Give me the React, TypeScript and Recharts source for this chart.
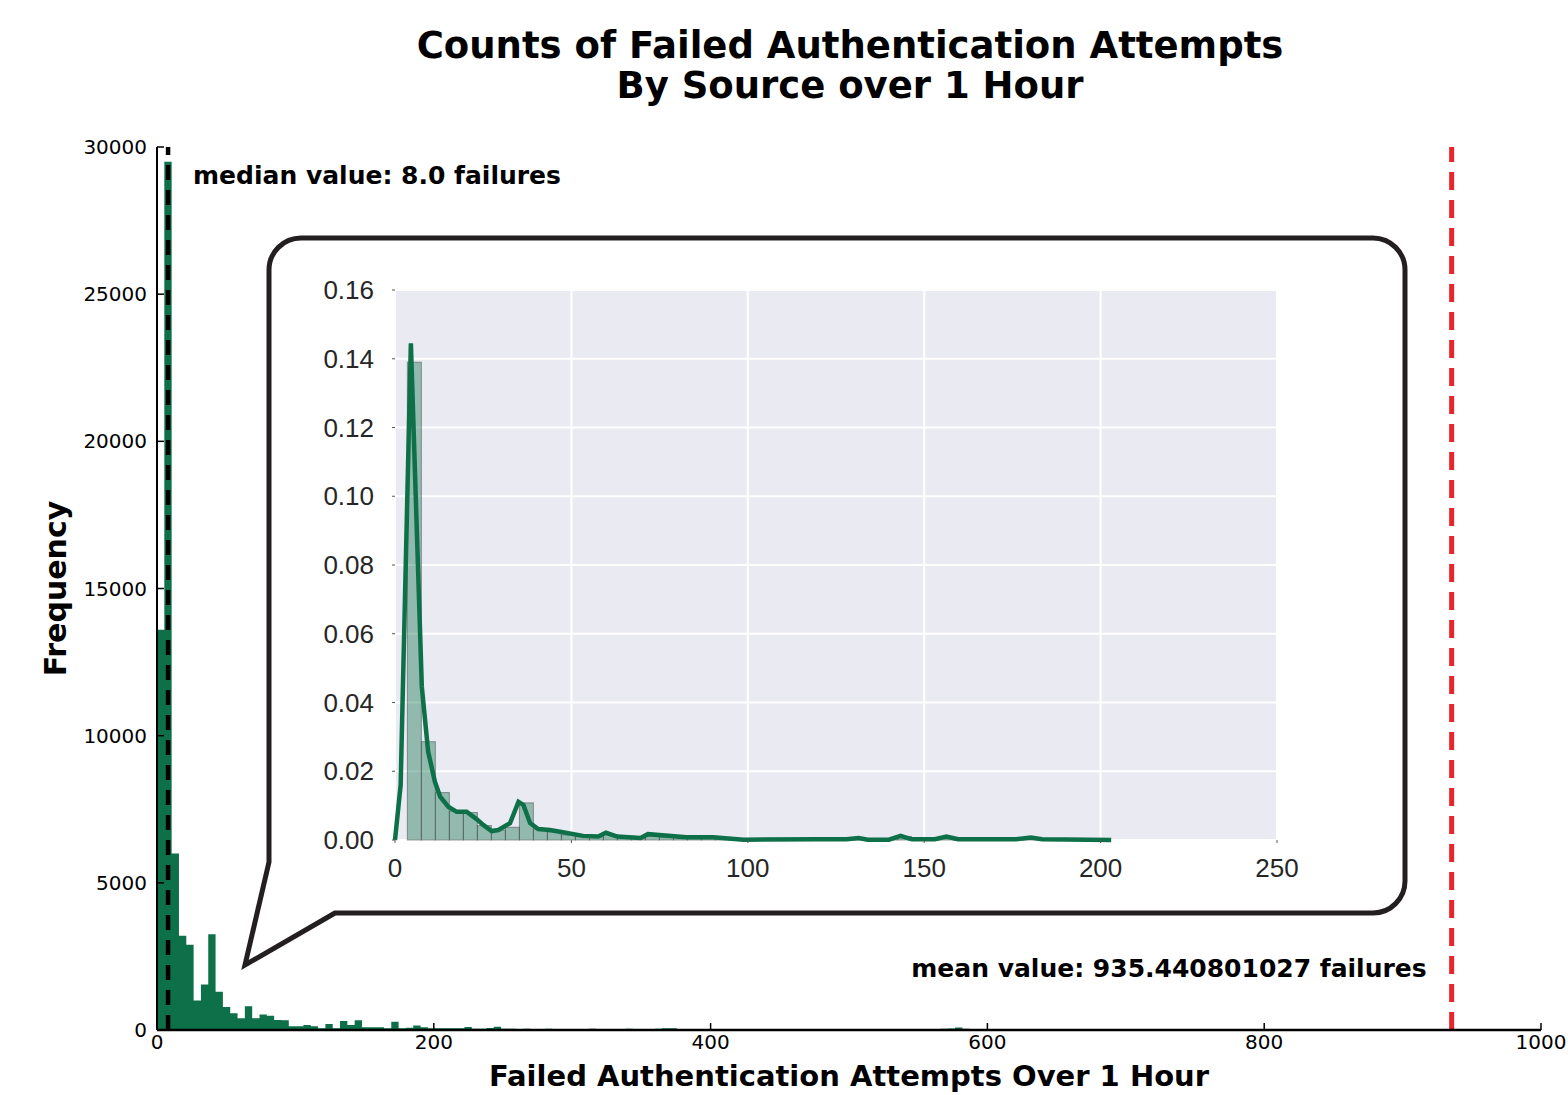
import React from 'react';
import { ComposedChart, Area, Bar, Line, XAxis, YAxis, CartesianGrid, ReferenceLine, Label } from 'recharts';

// ---------- data: main histogram (counts per bin) ----------
const MAIN_BIN_WIDTH = 5.29;
const mainCounts = [
  13600, 29500, 6000, 3200, 2900, 1000, 1550, 3250, 1300, 780,
  570, 400, 810, 400, 530, 480, 340, 330,
  125, 125, 170, 125, 58, 200, 58, 305, 170, 330, 90, 90, 90, 60, 280, 60, 80, 150,
  90, 60, 60, 60, 60, 60, 100, 45, 45, 70, 110, 45, 40, 35,
  40, 30, 35, 45, 30, 28, 38, 32, 30, 42,
  35, 30, 28, 33, 40, 30, 27, 35, 45, 62,
  58, 30, 28, 32, 30, 25, 35, 30, 28, 26,
  30, 33, 28, 25, 30, 27, 35, 28, 26, 30,
  28, 25, 32, 27, 30, 26, 24, 28, 30, 25,
  27, 24, 28, 30, 25, 26, 35, 40, 55, 88,
  40, 26, 24, 28, 25, 22, 27, 25, 23, 26,
  24, 22, 25, 23, 26, 22, 20, 24, 22, 25,
  21, 23, 20, 24, 22, 21, 19, 23, 20, 22,
  20, 22, 19, 21, 20, 18, 22, 20, 19, 21,
  18, 20, 22, 19, 18, 20, 17, 19, 21, 18,
  17, 19, 18, 20, 17, 18, 16, 19, 17, 18,
  16, 18, 17, 15, 18, 16, 17, 15, 16, 18,
  15, 17, 16, 15, 17, 14, 16, 15, 14,
];
const mainXTicks = [0, 200, 400, 600, 800, 1000];
const mainYTicks = [0, 5000, 10000, 15000, 20000, 25000, 30000];
const MEDIAN = 8.0;
const MEAN = 935.440801027;

// ---------- data: inset (density histogram + KDE) ----------
const INSET_BIN_START = 3.5;
const INSET_BIN_WIDTH = 3.97;
const insetDensity = [
  0.139, 0.0286, 0.0138, 0.0084, 0.0080, 0.0042, 0.0029, 0.0037, 0.0108, 0.0032,
  0.0024, 0.0015, 0.0010,
  0.0009, 0.0016, 0.0008, 0.0006, 0.0012, 0.0009, 0.0007, 0.0006, 0.0008, 0.0006, 0.0004, 0.0002,
  0.0002, 0.0001, 0.0002, 0.0001, 0.0002, 0.0001, 0.0002, 0.0004, 0.0001, 0.0001,
  0.0010, 0.0002, 0.0001, 0.0008, 0.0002, 0.0001, 0.0001, 0.0002, 0.0001, 0.0006,
  0.0002, 0.0001, 0.0001, 0.0002, 0.0001,
];
const kdeX = [
  0, 1.6, 4.5, 7.6, 9.4, 11.3, 12.8, 15.1, 17.5, 20.3, 23.2, 25, 27.4, 29.3, 32.6,
  35, 36.4, 38.3, 40.6, 43.9, 46.8, 53.3, 57.6, 59.8, 63, 69.6, 71.7, 82.6, 90.2,
  98.8, 120, 128, 131.4, 134, 140, 143.3, 146.5, 153, 156.3, 159.6, 176, 180.2, 183.4, 203,
];
const kdeY = [
  0, 0.016, 0.1445, 0.0446, 0.0257, 0.017, 0.0126, 0.0097, 0.0082, 0.0082, 0.006, 0.0044,
  0.0026, 0.0029, 0.0049, 0.0111, 0.0102, 0.0049, 0.0032, 0.0029, 0.0024, 0.0012, 0.001,
  0.0021, 0.001, 0.0006, 0.0017, 0.0008, 0.0008, 0.0001, 0.0002, 0.0002, 0.0006, 0.0001,
  0.0001, 0.0012, 0.0002, 0.0002, 0.001, 0.0002, 0.0002, 0.0007, 0.0002, 0,
];
const insetXTicks = [0, 50, 100, 150, 200, 250];
const insetYTicks = [0, 0.02, 0.04, 0.06, 0.08, 0.1, 0.12, 0.14, 0.16];

// ---------- derived tables ----------
const mainData = mainCounts
  .map((c, i) => ({ x: i * MAIN_BIN_WIDTH, count: c }))
  .concat([{ x: mainCounts.length * MAIN_BIN_WIDTH, count: mainCounts[mainCounts.length - 1] }]);
const insetBars = insetDensity.map((d, i) => ({
  x: INSET_BIN_START + (i + 0.5) * INSET_BIN_WIDTH,
  density: d,
}));
const kdeData = kdeX.map((x, i) => ({ x, kde: kdeY[i] }));

const GREEN = '#0d7049';
const RED = '#e8252a';
const DV = 'DejaVu Sans';
const LIB = 'Liberation Sans';

const INSET_W = 1000;
const INSET_H = 630;
const INSET_MARGIN = { top: 20, right: 23, bottom: 0, left: 0 };
const INSET_YAXIS_W = 95;
const INSET_X_DOMAIN = 250;
const INSET_PLOT_W = INSET_W - INSET_MARGIN.right - INSET_MARGIN.left - INSET_YAXIS_W;
const INSET_BAR_PX = (INSET_BIN_WIDTH / INSET_X_DOMAIN) * INSET_PLOT_W;

// bar shape: centred on the library's x coordinate, one bin wide
const HistBar = (props: any) => {
  const { x, y, width, height } = props;
  if (height == null || height <= 0) return null;
  const cx = x + (width || 0) / 2;
  return (
    <rect
      x={cx - INSET_BAR_PX / 2}
      y={y}
      width={INSET_BAR_PX}
      height={height}
      fill={GREEN}
      fillOpacity={0.4}
      stroke="#4d4d4d"
      strokeOpacity={0.55}
      strokeWidth={1}
    />
  );
};

const MedianLabel = (props: any) => {
  const vb = props.viewBox || { x: 0, y: 0 };
  return (
    <text x={vb.x + 25} y={vb.y + 37} fontFamily={DV} fontWeight="bold" fontSize={25} fill="#000">
      {`median value: ${MEDIAN.toFixed(1)} failures`}
    </text>
  );
};

const MeanLabel = (props: any) => {
  const vb = props.viewBox || { x: 0, y: 0, height: 0 };
  return (
    <text x={vb.x - 25} y={vb.y + vb.height - 53} textAnchor="end" fontFamily={DV} fontWeight="bold" fontSize={25} fill="#000">
      {`mean value: ${MEAN} failures`}
    </text>
  );
};

const XLabel = (props: any) => {
  const vb = props.viewBox || { x: 0, y: 0, width: 0, height: 0 };
  return (
    <text x={vb.x + vb.width / 2} y={vb.y + vb.height - 9} textAnchor="middle" fontFamily={DV} fontWeight="bold" fontSize={29} fill="#000">
      Failed Authentication Attempts Over 1 Hour
    </text>
  );
};

const YLabel = (props: any) => {
  const vb = props.viewBox || { x: 0, y: 0, width: 0, height: 0 };
  const cy = vb.y + vb.height / 2;
  return (
    <text x={66} y={cy} transform={`rotate(-90 66 ${cy})`} textAnchor="middle" fontFamily={DV} fontWeight="bold" fontSize={30} fill="#000">
      Frequency
    </text>
  );
};

export default function App() {
  return (
    <div style={{ position: 'absolute', left: 0, top: 0, width: 1568, height: 1095, background: '#fff', overflow: 'hidden' }}>
      <div style={{ position: 'absolute', left: 0, top: 0 }}>
        <ComposedChart width={1568} height={1095} data={mainData} margin={{ top: 147, right: 27, bottom: 0, left: 0 }}>
          <XAxis
            type="number"
            dataKey="x"
            domain={[0, 1000]}
            ticks={mainXTicks}
            interval={0}
            allowDataOverflow
            height={65}
            tickSize={-7}
            tickMargin={12}
            axisLine={{ stroke: '#000', strokeWidth: 2.5 }}
            tickLine={{ stroke: '#000', strokeWidth: 1.5 }}
            tick={{ fill: '#000', fontSize: 20, fontFamily: DV }}
          >
            <Label content={<XLabel />} />
          </XAxis>
          <YAxis
            type="number"
            domain={[0, 30000]}
            ticks={mainYTicks}
            interval={0}
            allowDataOverflow
            width={157}
            tickSize={-7}
            tickMargin={17}
            axisLine={{ stroke: '#000', strokeWidth: 2 }}
            tickLine={{ stroke: '#000', strokeWidth: 1.5 }}
            tick={{ fill: '#000', fontSize: 20, fontFamily: DV }}
          >
            <Label content={<YLabel />} />
          </YAxis>
          <Area type="stepAfter" dataKey="count" fill={GREEN} fillOpacity={1} stroke="none" isAnimationActive={false} />
          <ReferenceLine x={MEDIAN} stroke="#000" strokeWidth={4.5} strokeDasharray="15 10" label={<MedianLabel />} />
          <ReferenceLine x={MEAN} stroke={RED} strokeWidth={5} strokeDasharray="18 10" label={<MeanLabel />} />
        </ComposedChart>
      </div>

      <svg width={1568} height={1095} style={{ position: 'absolute', left: 0, top: 0 }}>
        <text x={850} y={58} textAnchor="middle" fontFamily={DV} fontWeight="bold" fontSize={37} fill="#000">
          Counts of Failed Authentication Attempts
        </text>
        <text x={850} y={98} textAnchor="middle" fontFamily={DV} fontWeight="bold" fontSize={37} fill="#000">
          By Source over 1 Hour
        </text>
        <path
          d="M 335 913 L 245 965 L 269 862 L 269 270 A 32 32 0 0 1 301 238 L 1373 238 A 32 32 0 0 1 1405 270 L 1405 881 A 32 32 0 0 1 1373 913 Z"
          fill="#fff"
          stroke="#231f20"
          strokeWidth={5}
          strokeLinejoin="miter"
        />
      </svg>

      <div style={{ position: 'absolute', left: 300, top: 270 }}>
        <ComposedChart width={INSET_W} height={INSET_H} data={insetBars} margin={INSET_MARGIN} barGap={0} barCategoryGap={0}>
          <CartesianGrid stroke="#fff" strokeWidth={2} fill="#EAEAF2" />
          <XAxis
            type="number"
            dataKey="x"
            domain={[0, INSET_X_DOMAIN]}
            ticks={insetXTicks}
            interval={0}
            height={60}
            axisLine={false}
            tickSize={3}
            tickMargin={16}
            tickLine={{ stroke: '#555' }}
            tick={{ fill: '#262626', fontSize: 26, fontFamily: LIB }}
          />
          <YAxis
            type="number"
            domain={[0, 0.16]}
            ticks={insetYTicks}
            interval={0}
            width={INSET_YAXIS_W}
            axisLine={false}
            tickSize={3}
            tickMargin={18}
            tickLine={{ stroke: '#555' }}
            tickFormatter={(v: number) => v.toFixed(2)}
            tick={{ fill: '#262626', fontSize: 26, fontFamily: LIB }}
          />
          <Bar
            dataKey="density"
            fill={GREEN}
            shape={<HistBar />}
            isAnimationActive={false}
          />
          <Line
            data={kdeData}
            dataKey="kde"
            type="linear"
            stroke={GREEN}
            strokeWidth={4.5}
            dot={false}
            activeDot={false}
            isAnimationActive={false}
          />
        </ComposedChart>
      </div>
    </div>
  );
}
